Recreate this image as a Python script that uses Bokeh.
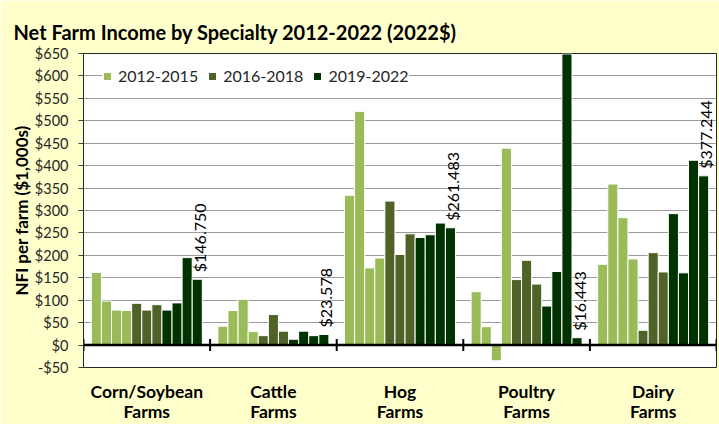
import math
from bokeh.plotting import figure
from bokeh.models import (Range1d, FixedTicker, SingleIntervalTicker, NumeralTickFormatter,
                          LinearAxis, Span, Legend, LegendItem, ColumnDataSource)
from bokeh.core.properties import value
from bokeh.embed import file_html
from bokeh.resources import INLINE

# ---------------- data ----------------
title_main = "Net Farm Income by Specialty 2012-2022"
title_units = "(2022$)"
categories = ["Corn/Soybean Farms", "Cattle Farms", "Hog Farms", "Poultry Farms", "Dairy Farms"]
years = [2012, 2013, 2014, 2015, 2016, 2017, 2018, 2019, 2020, 2021, 2022]
periods = ["2012-2015", "2016-2018", "2019-2022"]
period_years = [[2012, 2013, 2014, 2015], [2016, 2017, 2018], [2019, 2020, 2021, 2022]]

corn_soybean = [162, 98, 78, 77, 93, 78, 90, 78, 94, 195, 146.750]
cattle = [42, 77, 102, 30, 21, 68, 31, 13, 31, 21, 23.578]
hog = [334, 521, 172, 194, 321, 202, 248, 240, 246, 272, 261.483]
poultry = [119, 41, -35, 439, 146, 189, 136, 87, 164, 649, 16.443]
dairy = [180, 359, 284, 192, 33, 206, 163, 293, 161, 412, 377.244]
series = [corn_soybean, cattle, hog, poultry, dairy]

colors = ["#9BBB59", "#4F6228", "#003300"]
FONT = "Lato"
BAR_W = 0.0797  # width of one bar in category units

def xpos(ci, yi):
    return ci + 0.5 + (yi - (len(years) - 1) / 2) * BAR_W

p = figure(width=719, height=424, output_backend="svg", toolbar_location=None,
           x_range=Range1d(0, len(categories)), y_range=Range1d(-50, 650),
           min_border_left=83, min_border_right=3, min_border_top=53, min_border_bottom=54,
           title=title_main + " " + title_units)
p.border_fill_color = "#FFFFCC"
p.background_fill_color = "white"
p.outline_line_color = "#262626"
p.outline_line_width = 1

# title
p.title.text_font = FONT
p.title.text_font_style = "bold"
p.title.text_font_size = "20px"
p.title.text_color = "black"
p.title.align = "left"
p.title.offset = -70
p.title.standoff = 20

# grid
p.xgrid.grid_line_color = None
p.ygrid.grid_line_color = "#9C9C9C"
p.ygrid.grid_line_width = 1.2
p.ygrid.ticker = SingleIntervalTicker(interval=50)

# bars, one renderer per period
renderers = []
for k, (name, yrs) in enumerate(zip(periods, period_years)):
    xs, tops = [], []
    for ci, vals in enumerate(series):
        for yv in yrs:
            yi = years.index(yv)
            xs.append(xpos(ci, yi))
            tops.append(vals[yi])
    src = ColumnDataSource(dict(x=xs, top=tops))
    r = p.vbar(x="x", top="top", bottom=0, width=BAR_W, source=src,
               fill_color=colors[k], line_color="white", line_width=1)
    renderers.append((name, r))

# zero line and category boundary tick marks
p.add_layout(Span(location=0, dimension="width", line_color="black", line_width=2.6))
bounds = list(range(len(categories) + 1))
p.rect(x=bounds, y=[0] * len(bounds), width=2, height=12, width_units="screen",
       height_units="screen", fill_color="black", line_color=None)

# data labels on the last bar of each group
lx = [xpos(ci, len(years) - 1) for ci in range(len(categories))]
ly = [vals[-1] for vals in series]
lt = ["${:.3f}".format(v) for v in ly]
p.text(x=lx, y=ly, text=lt, angle=math.pi / 2, text_align="left", text_baseline="middle",
       x_offset=2, y_offset=-7, text_font=value(FONT), text_font_size="16px", text_color="black")

# y axis
ya = p.yaxis[0]
ya.ticker = SingleIntervalTicker(interval=50)
ya.formatter = NumeralTickFormatter(format="$0")
ya.major_label_text_font = FONT
ya.major_label_text_font_size = "14.5px"
ya.major_label_text_color = "#262626"
ya.major_label_standoff = 10
ya.major_tick_out = 5
ya.major_tick_in = 0
ya.minor_tick_line_color = None
ya.axis_line_color = "#262626"
ya.major_tick_line_color = "#404040"
ya.axis_label = "NFI per farm ($1,000s)"
ya.axis_label_text_font = FONT
ya.axis_label_text_font_style = "bold"
ya.axis_label_text_font_size = "17px"
ya.axis_label_text_color = "black"
ya.axis_label_standoff = 0

# x axes: category names on two lines
centers = [i + 0.5 for i in range(len(categories))]
line1 = {c: n.rsplit(" ", 1)[0] for c, n in zip(centers, categories)}
line2 = {c: n.rsplit(" ", 1)[1] for c, n in zip(centers, categories)}
xa2 = LinearAxis()
p.add_layout(xa2, "below")
for ax, labels, standoff in ((p.xaxis[0], line1, 13), (xa2, line2, -4)):
    ax.ticker = FixedTicker(ticks=centers)
    ax.major_label_overrides = labels
    ax.major_label_text_font = FONT
    ax.major_label_text_font_style = "bold"
    ax.major_label_text_font_size = "17.5px"
    ax.major_label_text_color = "black"
    ax.major_label_text_line_height = 1.0
    ax.major_label_standoff = standoff
    ax.major_tick_in = 0
    ax.major_tick_out = 0
    ax.axis_line_color = None
    ax.major_tick_line_color = None
    ax.minor_tick_line_color = None

# legend
legend = Legend(items=[LegendItem(label=n, renderers=[r]) for n, r in renderers],
                orientation="horizontal", location=(19, 282), margin=0, padding=9,
                spacing=9, glyph_width=10, glyph_height=10, label_standoff=6,
                label_text_font=FONT, label_text_font_size="16px", label_text_color="#262626",
                background_fill_color="white", background_fill_alpha=1.0,
                border_line_color=None)
p.add_layout(legend)

open("out.html", "w").write(file_html(p, INLINE))
